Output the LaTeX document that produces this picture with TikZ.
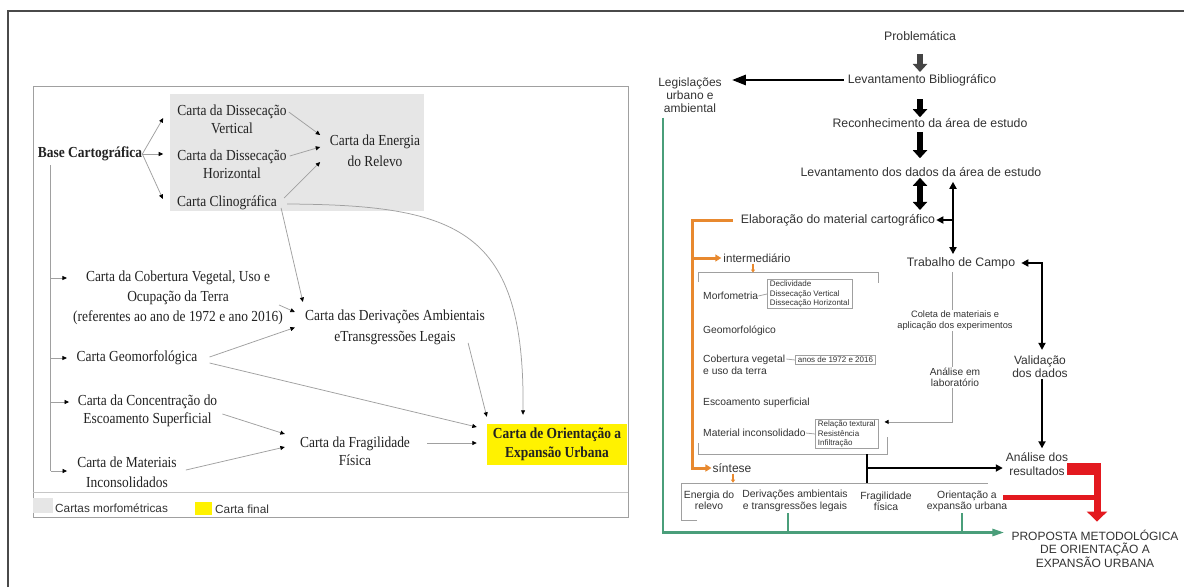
\documentclass[tikz,border=0pt]{standalone}
\usepackage{fontspec}
\setmainfont{Liberation Serif}[FakeStretch=0.88]
\newfontfamily\arialf{Liberation Sans}
\usetikzlibrary{arrows.meta,calc}
\definecolor{txt}{HTML}{222222}
\definecolor{rtxt}{HTML}{333333}
\definecolor{lgray}{HTML}{A0A0A0}
\definecolor{boxgray}{HTML}{E6E6E6}
\definecolor{yel}{HTML}{FFF200}
\definecolor{grn}{HTML}{4A9E7A}
\definecolor{org}{HTML}{E8892F}
\definecolor{redc}{HTML}{E3191F}
\definecolor{framec}{HTML}{4A4A4A}
\definecolor{darkarr}{HTML}{444444}
\newcommand\lfs[1]{\fontsize{15.3}{#1}\selectfont}
\newcommand\rfs[2]{\arialf\fontsize{#1}{#2}\selectfont}
\begin{document}
\begin{tikzpicture}[x=1pt,y=-1pt,
  lt/.style={font=\lfs{18}, text=txt, align=center, inner sep=0pt},
  gl/.style={draw=lgray, line width=0.75pt},
  ga/.style={gl, -{Triangle[length=4.5pt,width=4pt,color=black]}},
  rt/.style={font=\rfs{12.3}{13.5}, text=rtxt, align=center, inner sep=0pt},
  rs/.style={font=\rfs{10.3}{12}, text=rtxt, align=left, inner sep=0pt, anchor=west},
  tb/.style={font=\rfs{8}{9.5}, text=rtxt, align=left, inner xsep=2.5pt, inner ysep=1.5pt, draw=lgray, line width=0.7pt, anchor=west},
  blk/.style={line width=6pt, -{Triangle[length=8pt,width=14pt]}},
  bl/.style={draw=black, line width=2.2pt},
  bla/.style={bl, -{Triangle[length=7pt,width=7pt]}},
  blaa/.style={bl, {Triangle[length=7pt,width=7pt]}-{Triangle[length=7pt,width=7pt]}},
  og/.style={draw=org, line width=3pt},
  oga/.style={og, -{Triangle[length=6pt,width=7pt]}},
  ot/.style={draw=org, line width=1.5pt, -{Triangle[length=3pt,width=4pt]}}
]
\useasboundingbox (0,0) rectangle (1184,587);
\fill[white] (0,0) rectangle (1184,587);
% outer frame
\draw[framec, line width=1.2pt] (8,587) -- (8,11) -- (1184,11);

% ================= LEFT PANEL =================
\fill[boxgray] (170,94) rectangle (424,211);
\draw[lgray, line width=0.8pt] (33,86) rectangle (628,517);
\draw[lgray!60, line width=0.8pt] (33,492) -- (628,492);

\node[lt,font=\lfs{18}\bfseries] (base) at (90,154) {Base Cartográfica};
\node[lt] (dv) at (232,119) {Carta da Dissecação\\Vertical};
\node[lt] (dh) at (232,164) {Carta da Dissecação\\Horizontal};
\node[lt] (cli) at (227,203) {Carta Clinográfica};
\node[lt,font=\lfs{21}] (en) at (375,151) {Carta da Energia\\do Relevo};
\node[lt,font=\lfs{20}] (cob) at (178,298) {Carta da Cobertura Vegetal, Uso e\\Ocupação da Terra\\(referentes ao ano de 1972 e ano 2016)};
\node[lt] (geo) at (137,358) {Carta Geomorfológica};
\node[lt] (conc) at (147.5,411) {Carta da Concentração do\\Escoamento Superficial};
\node[lt,font=\lfs{20}] (mat) at (127,472) {Carta de Materiais\\Inconsolidados};
\node[lt,font=\lfs{21}] (der) at (395,327.5) {Carta das Derivações Ambientais\\eTransgressões Legais};
\node[lt] (fra) at (355,451) {Carta da Fragilidade\\Física};
\node[lt,font=\lfs{19}\bfseries,fill=yel,minimum width=140pt,minimum height=41pt] (ori) at (557,444.5) {Carta de Orientação a\\Expansão Urbana};

% connectors left
\draw[ga] (base.east) -- ($(dv.west)+(-14,-1)$);
\draw[ga] (base.east) -- ($(dh.west)+(-14,-10)$);
\draw[ga] (base.east) -- ($(cli.west)+(-14,-4)$);
\draw[ga] ($(dv.east)+(2,-7)$) -- ($(en.west)+(-9.5,-16)$);
\draw[ga] ($(dh.east)+(3,-8)$) -- ($(en.west)+(-9.5,-4)$);
\draw[ga] ($(cli.east)+(7,-5)$) -- ($(en.west)+(-9.5,11)$);
\draw[ga] ($(cli.east)+(4,5)$) -- ($(der.west)+(-2,-25.5)$);
\draw[ga] ($(cli.east)+(10,1)$) .. controls (460,205) and (525,230) .. ($(ori.north)+(-34,-9)$);
\draw[ga] ($(cob.east)+(-4,7)$) -- ($(der.west)+(-10,-15.5)$);
\draw[ga] ($(geo.east)+(12,-1)$) -- ($(der.west)+(-10,0)$);
\draw[ga] ($(geo.east)+(12,5)$) -- ($(ori.west)+(-10,-17.5)$);
\draw[ga] ($(der.east)+(-17,15.5)$) -- ($(ori.north west)+(0,-7)$);
\draw[ga] ($(fra.east)+(17,-8)$) -- ($(ori.west)+(-10,-1.5)$);
\draw[ga] ($(conc.east)+(5,3)$) -- ($(fra.west)+(-15,-17)$);
\draw[ga] ($(mat.east)+(9,-2)$) -- ($(fra.west)+(-15,-4)$);

\coordinate (vt) at ($(base.south west)+(13,4)$);
\coordinate (tcob) at ($(cob.west)+(-6,-20)$);
\coordinate (tgeo) at ($(geo.west)+(-9.5,0)$);
\coordinate (tconc) at ($(conc.west)+(-8.5,-9)$);
\coordinate (tmat) at ($(mat.west)+(-10,-1)$);
\draw[gl] (vt) -- (vt |- tmat);
\draw[ga] (vt |- tcob) -- (tcob);
\draw[ga] (vt |- tgeo) -- (tgeo);
\draw[ga] (vt |- tconc) -- (tconc);
\draw[ga] (vt |- tmat) -- (tmat);

% legend
\fill[boxgray] (33,498) rectangle (53,513);
\node[rt,font=\rfs{11.8}{13},anchor=west] (lg1) at (55,508) {Cartas morfométricas};
\fill[yel] (195,502) rectangle (212,515);
\node[rt,font=\rfs{11.8}{13},anchor=west] (lg2) at (215,509) {Carta final};

% ================= RIGHT PANEL =================
\node[rt] (prob) at (920,36) {Problemática};
\node[rt] (lb) at (922,80) {Levantamento Bibliográfico};
\node[rt] (rec) at (930,123) {Reconhecimento da área de estudo};
\node[rt] (ld) at (921,172) {Levantamento dos dados da área de estudo};
\node[rt] (ela) at (838,220) {Elaboração do material cartográfico};
\node[rt] (tc) at (961,263) {Trabalho de Campo};
\node[rt,font=\rfs{12}{13}] (val) at (1040,367) {Validação\\dos dados};
\node[rt,font=\rfs{12}{14}] (ana) at (1037,464) {Análise dos\\resultados};
\node[rt,font=\rfs{12}{13.5}] (prop) at (1095,548.5) {PROPOSTA METODOLÓGICA\\DE ORIENTAÇÃO A\\EXPANSÃO URBANA};
\node[rt,font=\rfs{12}{13}] (leg) at (690,95) {Legislações\\urbano e\\ambiental};
\node[rt,font=\rfs{11.6}{13}] (inter) at (757,258) {intermediário};
\node[rt,font=\rfs{12}{13}] (sin) at (732,468) {síntese};
\node[rs] (morf) at (703,296) {Morfometria};
\node[tb] (morfb) at (767,294) {Declividade\\Dissecação Vertical\\Dissecação Horizontal};
\node[rs] (geom) at (703,331) {Geomorfológico};
\node[rs] (cobv) at (703,365) {Cobertura vegetal\\e uso da terra};
\node[tb] (cobb) at (795,360) {anos de 1972 e 2016};
\node[rs] (esc) at (703,403) {Escoamento superficial};
\node[rs] (mati) at (703,433) {Material inconsolidado};
\node[tb] (matb) at (815,434) {Relação textural\\Resistência\\Infiltração};
\node[rt,font=\rfs{10.4}{11.5}] (en2) at (709,500.5) {Energia do\\relevo};
\node[rt,font=\rfs{10.4}{12}] (der2) at (795,501) {Derivações ambientais\\e transgressões legais};
\node[rt,font=\rfs{10.4}{11.5}] (fra2) at (886,501.5) {Fragilidade\\física};
\node[rt,font=\rfs{10.4}{11.5}] (ori2) at (967,501.5) {Orientação a\\expansão urbana};

% brackets and box lines
\draw[gl] (698,282) -- (698,272) -- (878,272) -- (878,283);
\draw[gl] (698,443) -- (698,454) -- (887,454) -- (887,437);
\draw[gl] (697,520) -- (681,520) -- (681,483) -- (988,483);
\draw[gl] (morf.east) -- (morfb.west);
\draw[gl] ($(cobv.east)+(1,-6)$) -- (cobb.west);
\draw[gl] (mati.east) -- (matb.west);

% gray line from Trabalho de Campo
\draw[gl, -{Triangle[length=4pt,width=4pt,color=black]}] ($(tc.south)+(-9,3)$) |- ($(matb.north east)+(6,3)$);
\node[rt,font=\rfs{9.3}{11},fill=white,inner sep=1pt] (col) at (955,320.5) {Coleta de materiais e\\aplicação dos experimentos};
\node[rt,font=\rfs{10.2}{11.5},fill=white,inner sep=1pt] (lab) at (955,377.5) {Análise em\\laboratório};

% central block arrows
\coordinate (cx) at (prob.south);
\draw[blk, draw=darkarr] ($(cx)+(0,13)$) -- ($(cx |- lb.north)+(0,-2)$);
\draw[blk, draw=black] ($(cx |- lb.south)+(0,13)$) -- ($(cx |- rec.north)+(0,-1)$);
\draw[blk, draw=black] ($(cx |- rec.south)+(0,4)$) -- ($(cx |- ld.north)+(0,-9)$);
\draw[line width=6pt, draw=black, {Triangle[length=8pt,width=14pt]}-{Triangle[length=8pt,width=14pt]}] ($(cx |- ld.south)+(0,1)$) -- ($(cx |- ela.north)+(0,-4)$);

% to Legislações
\draw[draw=black, line width=2.8pt, -{Triangle[length=14pt,width=10pt]}] ($(lb.west)+(-4,0)$) -- ($(leg.east |- lb.west)+(10,0)$);

% black connectors
\coordinate (b1) at ($(tc.north)+(-8,-3)$);
\draw[blaa] ($(b1 |- ld.south)+(0,5)$) -- (b1);
\draw[bla] (b1 |- ela.east) -- ($(ela.east)+(1,0)$);
\draw[blaa] ($(tc.east)+(6,0)$) -| ($(val.north)+(2,-6)$);
\draw[bla] ($(val.south)+(2,1)$) -- ($(val.south |- ana.north)+(2,-4)$);
\coordinate (jt) at (867,454);
\coordinate (jb) at (867,483);
\coordinate (jm) at (867,468);
\draw[bl] (jt) -- (jb);
\draw[bla] (jm) -- ($(jm -| ana.west)+(-3,0)$);

% orange
\coordinate (oc) at ($(sin.west)+(-20,0)$);
\draw[oga] ($(ela.west)+(-8,0)$) -| (oc) -- ($(sin.west)+(-1,0)$);
\draw[oga] (oc |- inter.west) -- ($(inter.west)+(-2,0)$);
\draw[ot] ($(inter.south)+(-4,1)$) -- ++(0,9);
\draw[ot] ($(sin.south)+(1,1)$) -- ++(0,9);

% green
\draw[draw=grn, line width=2.6pt, -{Triangle[length=12pt,width=7pt]}] ($(leg.south)+(-27,5)$) |- ($(prop.west)+(-7,-16)$);
\draw[draw=grn, line width=1.5pt] ($(der2.south)+(-7,1)$) -- ++(0,18);
\draw[draw=grn, line width=1.5pt] ($(ori2.south)+(-5,1)$) -- ++(0,18);

% red
\coordinate (rx) at ($(prop.north)+(2,-8)$);
\draw[draw=redc, line width=12pt] ($(ana.east)+(-1,5)$) -- ($(rx |- ana.east)+(3.5,5)$);
\draw[draw=redc, line width=7pt, -{Triangle[length=10pt,width=20pt]}] ($(rx |- ana.east)+(0,-1)$) -- (rx);
\coordinate (rs) at ($(ori2.east)+(-4,-4.5)$);
\draw[draw=redc, line width=5pt] (rs) -- ($(rx |- rs)+(3.5,0)$);
\end{tikzpicture}
\end{document}
